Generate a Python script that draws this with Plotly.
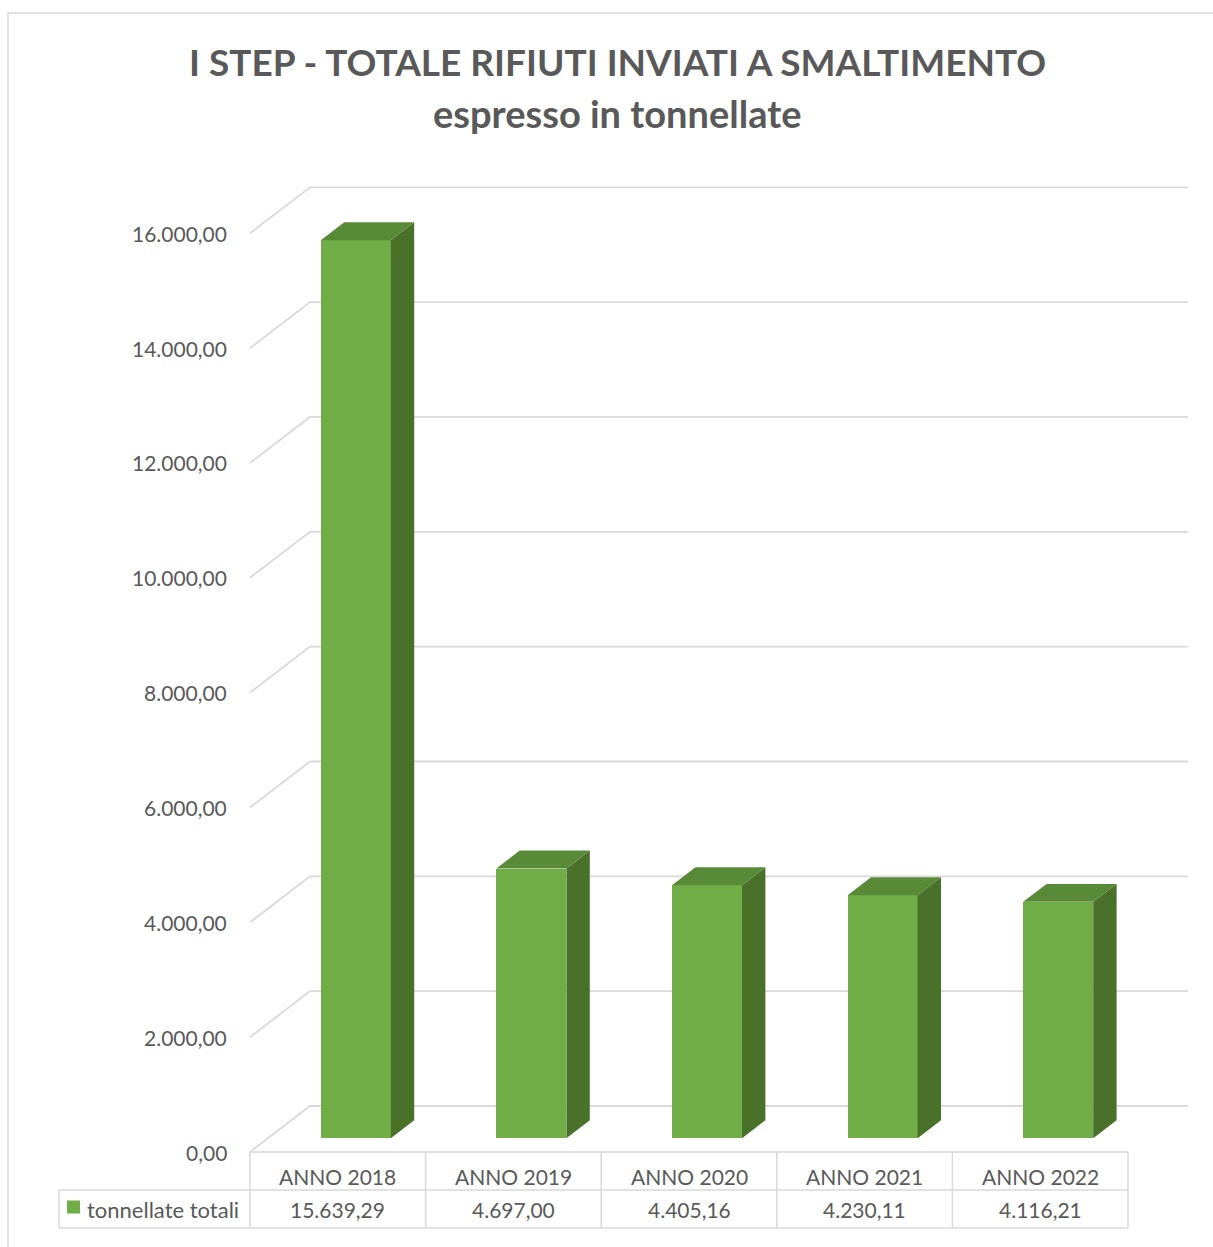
import plotly.graph_objects as go

# ---------------- data ----------------
categories = ["ANNO 2018", "ANNO 2019", "ANNO 2020", "ANNO 2021", "ANNO 2022"]
values = [15639.29, 4697.00, 4405.16, 4230.11, 4116.21]
series_name = "tonnellate totali"
tick_values = [0, 2000, 4000, 6000, 8000, 10000, 12000, 14000, 16000]
title_line1 = "I STEP - TOTALE RIFIUTI INVIATI A SMALTIMENTO"
title_line2 = "espresso in tonnellate"


def it_fmt(v):
    s = f"{v:,.2f}"
    return s.replace(",", "X").replace(".", ",").replace("X", ".")


# ---------------- geometry / style ----------------
W_FIG, H_FIG = 1213, 1247
S = 175.6          # px per category
K = 0.05742        # px per value unit
FRONT_LEFT_PX = 250
FLOOR_PX = 1152
PLOT_L, PLOT_R, PLOT_T, PLOT_B = 55, 1192, 180, 1235


def px_x(p):
    return -0.5 + (p - FRONT_LEFT_PX) / S


def px_y(p):
    return (FLOOR_PX - p) / K


DX = 60 / S        # full depth offset (x)
DY = 46 / K        # full depth offset (y)
F_BAR = 0.30       # depth of bar front face
F_DEPTH = 0.39     # bar depth
BAR_W = 70 / S

GREEN = "#70AD47"
TOP = "#588A37"
SIDE = "#4A712A"
GRID = "#D9D9D9"
TXT = "#595959"
FONT = "Lato, 'Open Sans', sans-serif"

n = len(categories)
xs = list(range(n))

fig = go.Figure()

shapes = []
# wall gridlines (left wall diagonal + back wall horizontal), behind the bars
for v in tick_values:
    shapes.append(dict(type="path", xref="x", yref="y", layer="below",
                       path=f"M {-0.5},{v} L {-0.5 + DX},{v + DY} L {n - 0.5 + DX},{v + DY}",
                       line=dict(color=GRID, width=1.8)))

# bars: front faces
bx = [i + F_BAR * DX for i in xs]
base = F_BAR * DY
fig.add_trace(go.Bar(x=bx, y=values, base=base, width=BAR_W,
                     marker=dict(color=GREEN, line=dict(width=0)),
                     hoverinfo="skip", showlegend=False))

ddx, ddy = F_DEPTH * DX, F_DEPTH * DY
for c, v in zip(bx, values):
    xl, xr = c - BAR_W / 2, c + BAR_W / 2
    top = v + base
    # side face
    fig.add_trace(go.Scatter(
        x=[xr, xr, xr + ddx, xr + ddx, xr],
        y=[base, top, top + ddy, base + ddy, base],
        mode="lines", fill="toself", fillcolor=SIDE,
        line=dict(width=0, color=SIDE), hoverinfo="skip", showlegend=False))
    # top face
    fig.add_trace(go.Scatter(
        x=[xl, xr, xr + ddx, xl + ddx, xl],
        y=[top, top, top + ddy, top + ddy, top],
        mode="lines", fill="toself", fillcolor=TOP,
        line=dict(width=0, color=TOP), hoverinfo="skip", showlegend=False))

# data table grid
y_r0 = 0
y_r1 = px_y(1190)
y_r2 = px_y(1228)
x_tl = px_x(59)
tx, ty = [], []
tx += [-0.5, n - 0.5, None]; ty += [y_r0, y_r0, None]
tx += [x_tl, n - 0.5, None]; ty += [y_r1, y_r1, None]
tx += [x_tl, n - 0.5, None]; ty += [y_r2, y_r2, None]
tx += [x_tl, x_tl, None]; ty += [y_r1, y_r2, None]
for k in range(n + 1):
    tx += [k - 0.5, k - 0.5, None]
    ty += [y_r0, y_r2, None]
fig.add_trace(go.Scatter(x=tx, y=ty, mode="lines",
                         line=dict(color=GRID, width=1.5),
                         hoverinfo="skip", showlegend=False))

# legend key in table
fig.add_trace(go.Scatter(x=[px_x(73.5)], y=[px_y(1207)], mode="markers",
                         marker=dict(symbol="square", size=13, color=GREEN,
                                     line=dict(width=0)),
                         hoverinfo="skip", showlegend=False))

annotations = []
for i, (cat, v) in enumerate(zip(categories, values)):
    annotations.append(dict(x=i, y=px_y(1176), text=cat, showarrow=False,
                            xanchor="center", yanchor="middle",
                            font=dict(family=FONT, size=21, color=TXT)))
    annotations.append(dict(x=i, y=px_y(1209), text=it_fmt(v), showarrow=False,
                            xanchor="center", yanchor="middle",
                            font=dict(family=FONT, size=21, color=TXT)))
annotations.append(dict(x=px_x(85), y=px_y(1209), text=series_name, showarrow=False,
                        xanchor="left", yanchor="middle",
                        font=dict(family=FONT, size=22, color=TXT)))
for v in tick_values:
    annotations.append(dict(x=px_x(229), y=v, text=it_fmt(v), showarrow=False,
                            xanchor="right", yanchor="middle",
                            font=dict(family=FONT, size=21, color=TXT)))

# title
pw = PLOT_R - PLOT_L
ph = PLOT_B - PLOT_T


def paper_x(p):
    return (p - PLOT_L) / pw


def paper_y(p):
    return (PLOT_B - p) / ph


annotations.append(dict(xref="paper", yref="paper", x=paper_x(617), y=paper_y(62),
                        text="<b>" + title_line1 + "</b>", showarrow=False,
                        xanchor="center", yanchor="middle",
                        font=dict(family=FONT, size=37, color=TXT)))
annotations.append(dict(xref="paper", yref="paper", x=paper_x(617), y=paper_y(113),
                        text="<b>" + title_line2 + "</b>", showarrow=False,
                        xanchor="center", yanchor="middle",
                        font=dict(family=FONT, size=38, color=TXT)))

shapes.append(dict(type="rect", xref="paper", yref="paper",
                   x0=paper_x(8), x1=paper_x(1230), y0=paper_y(1270), y1=paper_y(13),
                   line=dict(color=GRID, width=1.5), fillcolor="rgba(0,0,0,0)",
                   layer="below"))

fig.update_layout(
    width=W_FIG, height=H_FIG, autosize=False,
    margin=dict(l=PLOT_L, r=W_FIG - PLOT_R, t=PLOT_T, b=H_FIG - PLOT_B, pad=0),
    paper_bgcolor="white", plot_bgcolor="white",
    xaxis=dict(range=[px_x(PLOT_L), px_x(PLOT_R)], visible=False, fixedrange=True),
    yaxis=dict(range=[px_y(PLOT_B), px_y(PLOT_T)], visible=False, fixedrange=True),
    annotations=annotations,
    shapes=shapes,
    showlegend=False,
    bargap=0,
)

fig.write_html("out.html")
